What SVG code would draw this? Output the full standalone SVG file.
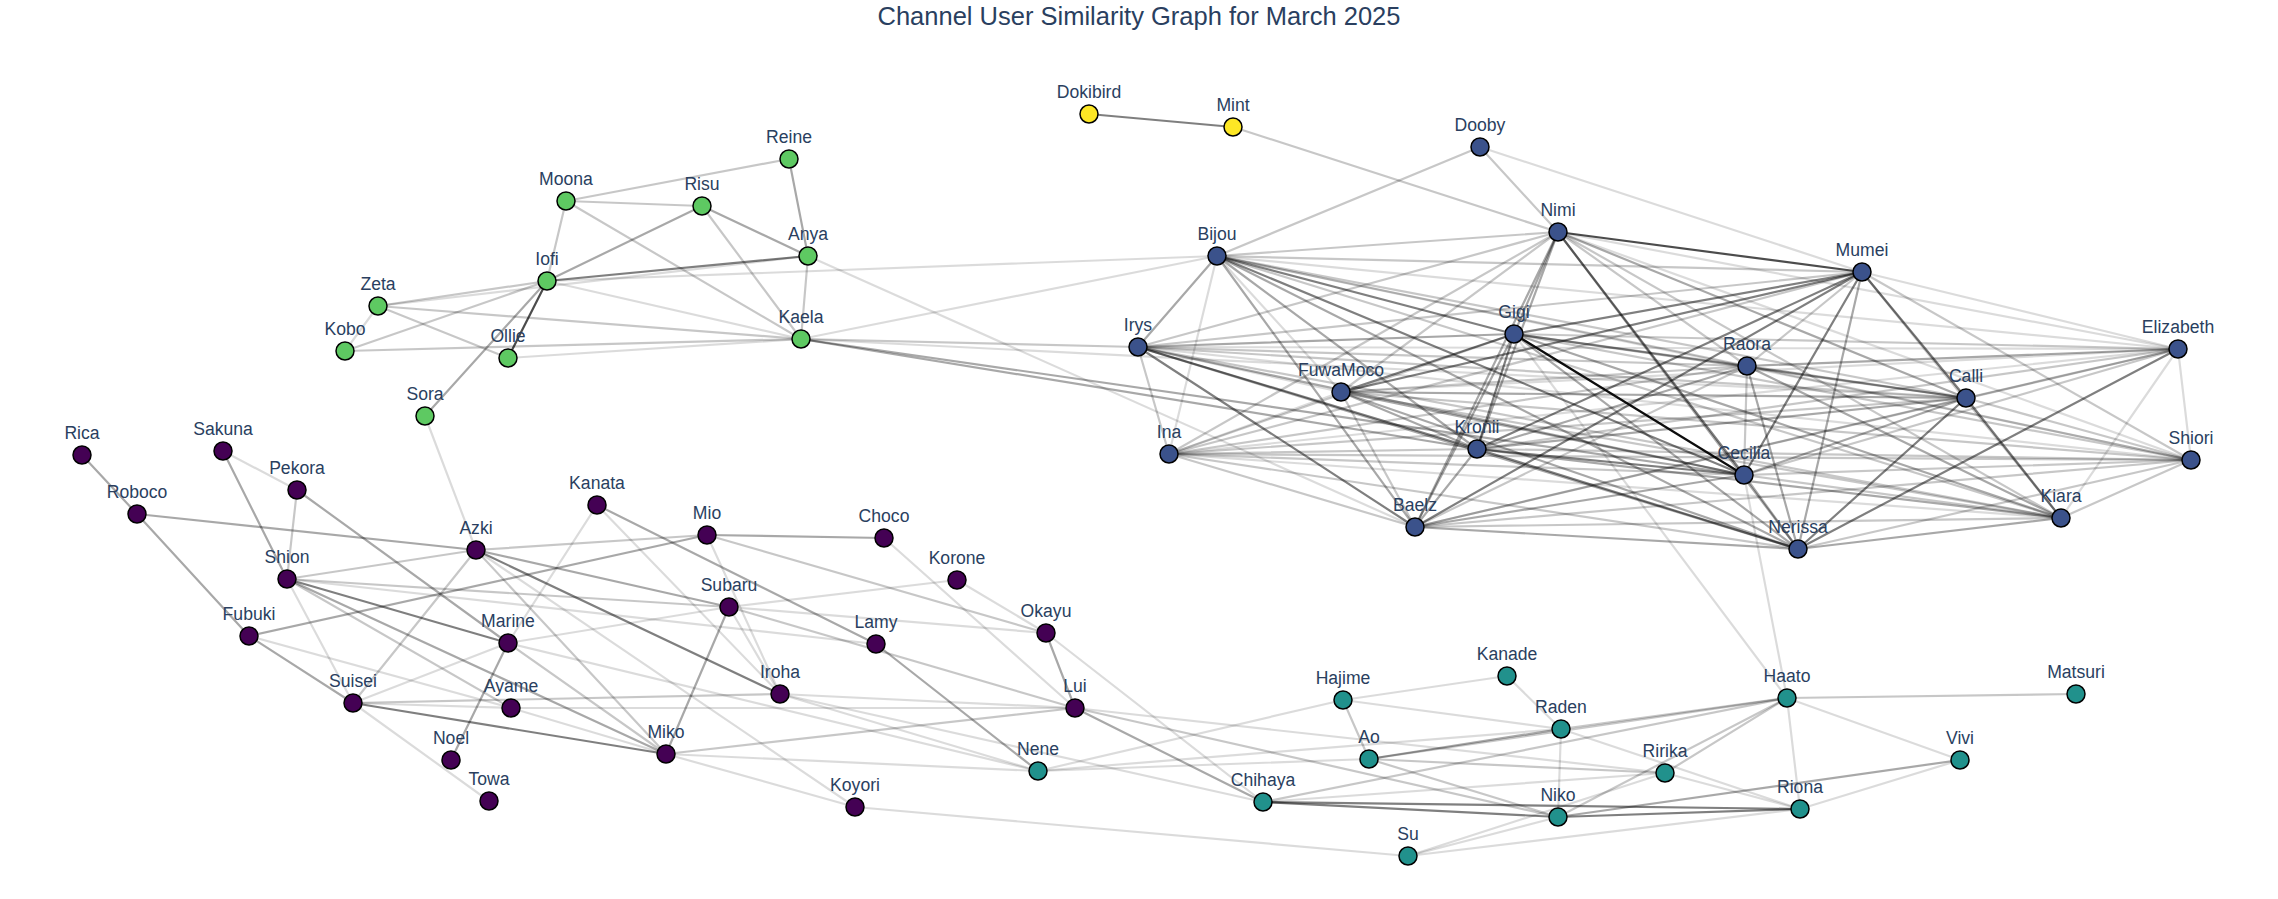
<svg xmlns="http://www.w3.org/2000/svg" width="2278" height="899" viewBox="0 0 2278 899">
<style>
.bg{fill:#ffffff}
.title{font-family:"Liberation Sans",Arial,sans-serif;font-size:25.5px;fill:#2a3f5f;text-anchor:middle}
.lbl{font-family:"Liberation Sans",Arial,sans-serif;font-size:17.6px;fill:#2a3f5f;text-anchor:middle}
circle{stroke:#000;stroke-width:1.5}
.g{fill:#5ec962}.y{fill:#fde725}.b{fill:#3b528b}.p{fill:#440154}.t{fill:#21918c}
#edges line{stroke:#000;stroke-width:2.2;stroke-linecap:round}
.l1 line{stroke-opacity:0.14}.l2 line{stroke-opacity:0.22}.l3 line{stroke-opacity:0.34}
.l4 line{stroke-opacity:0.5}.l5 line{stroke-opacity:0.7}.l6 line{stroke-opacity:0.95}
</style>
<rect class="bg" x="0" y="0" width="2278" height="899"/>
<text class="title" x="1139" y="25">Channel User Similarity Graph for March 2025</text>
<g id="edges">
<g class="l1">
<line x1="1480" y1="147" x2="1862" y2="272"/>
<line x1="547" y1="281" x2="801" y2="339"/>
<line x1="547" y1="281" x2="1217" y2="256"/>
<line x1="378" y1="306" x2="345" y2="351"/>
<line x1="508" y1="358" x2="801" y2="339"/>
<line x1="425" y1="416" x2="476" y2="550"/>
<line x1="808" y1="256" x2="1415" y2="527"/>
<line x1="801" y1="339" x2="1217" y2="256"/>
<line x1="801" y1="339" x2="1966" y2="398"/>
<line x1="378" y1="306" x2="808" y2="256"/>
<line x1="223" y1="451" x2="297" y2="490"/>
<line x1="476" y1="550" x2="855" y2="807"/>
<line x1="597" y1="505" x2="508" y2="643"/>
<line x1="597" y1="505" x2="780" y2="694"/>
<line x1="707" y1="535" x2="780" y2="694"/>
<line x1="729" y1="607" x2="508" y2="643"/>
<line x1="729" y1="607" x2="957" y2="580"/>
<line x1="729" y1="607" x2="1046" y2="633"/>
<line x1="729" y1="607" x2="780" y2="694"/>
<line x1="884" y1="538" x2="1075" y2="708"/>
<line x1="957" y1="580" x2="1046" y2="633"/>
<line x1="1046" y1="633" x2="1263" y2="802"/>
<line x1="1075" y1="708" x2="780" y2="694"/>
<line x1="1075" y1="708" x2="1665" y2="773"/>
<line x1="780" y1="694" x2="1038" y2="771"/>
<line x1="780" y1="694" x2="1263" y2="802"/>
<line x1="287" y1="579" x2="353" y2="703"/>
<line x1="287" y1="579" x2="876" y2="644"/>
<line x1="249" y1="636" x2="511" y2="708"/>
<line x1="508" y1="643" x2="353" y2="703"/>
<line x1="508" y1="643" x2="1038" y2="771"/>
<line x1="353" y1="703" x2="489" y2="801"/>
<line x1="353" y1="703" x2="511" y2="708"/>
<line x1="511" y1="708" x2="1075" y2="708"/>
<line x1="511" y1="708" x2="666" y2="754"/>
<line x1="666" y1="754" x2="1038" y2="771"/>
<line x1="666" y1="754" x2="855" y2="807"/>
<line x1="855" y1="807" x2="1408" y2="856"/>
<line x1="1343" y1="700" x2="1038" y2="771"/>
<line x1="1343" y1="700" x2="1507" y2="676"/>
<line x1="1343" y1="700" x2="1561" y2="729"/>
<line x1="1507" y1="676" x2="1561" y2="729"/>
<line x1="1561" y1="729" x2="1558" y2="817"/>
<line x1="1561" y1="729" x2="1800" y2="809"/>
<line x1="1038" y1="771" x2="1369" y2="759"/>
<line x1="1038" y1="771" x2="1561" y2="729"/>
<line x1="1263" y1="802" x2="1665" y2="773"/>
<line x1="1408" y1="856" x2="1558" y2="817"/>
<line x1="1408" y1="856" x2="1665" y2="773"/>
<line x1="1408" y1="856" x2="1800" y2="809"/>
<line x1="1665" y1="773" x2="1800" y2="809"/>
<line x1="1787" y1="698" x2="1960" y2="760"/>
<line x1="1787" y1="698" x2="1800" y2="809"/>
<line x1="1800" y1="809" x2="1960" y2="760"/>
<line x1="1514" y1="334" x2="1787" y2="698"/>
<line x1="1744" y1="475" x2="1787" y2="698"/>
<line x1="1217" y1="256" x2="1341" y2="392"/>
<line x1="1217" y1="256" x2="1169" y2="454"/>
<line x1="1217" y1="256" x2="2178" y2="349"/>
<line x1="1217" y1="256" x2="2191" y2="460"/>
<line x1="1138" y1="347" x2="1341" y2="392"/>
<line x1="1138" y1="347" x2="2178" y2="349"/>
<line x1="1138" y1="347" x2="2191" y2="460"/>
<line x1="1341" y1="392" x2="1169" y2="454"/>
<line x1="1341" y1="392" x2="2178" y2="349"/>
<line x1="1169" y1="454" x2="2178" y2="349"/>
<line x1="1169" y1="454" x2="2061" y2="518"/>
<line x1="1558" y1="232" x2="2178" y2="349"/>
<line x1="1558" y1="232" x2="2191" y2="460"/>
<line x1="1862" y1="272" x2="2178" y2="349"/>
<line x1="2178" y1="349" x2="2191" y2="460"/>
<line x1="2178" y1="349" x2="2061" y2="518"/>
</g>
<g class="l2">
<line x1="1233" y1="127" x2="1558" y2="232"/>
<line x1="1480" y1="147" x2="1217" y2="256"/>
<line x1="1480" y1="147" x2="1558" y2="232"/>
<line x1="566" y1="201" x2="702" y2="206"/>
<line x1="566" y1="201" x2="789" y2="159"/>
<line x1="566" y1="201" x2="547" y2="281"/>
<line x1="566" y1="201" x2="801" y2="339"/>
<line x1="702" y1="206" x2="801" y2="339"/>
<line x1="808" y1="256" x2="801" y2="339"/>
<line x1="547" y1="281" x2="378" y2="306"/>
<line x1="547" y1="281" x2="345" y2="351"/>
<line x1="378" y1="306" x2="508" y2="358"/>
<line x1="378" y1="306" x2="801" y2="339"/>
<line x1="345" y1="351" x2="801" y2="339"/>
<line x1="801" y1="339" x2="1138" y2="347"/>
<line x1="297" y1="490" x2="287" y2="579"/>
<line x1="476" y1="550" x2="707" y2="535"/>
<line x1="476" y1="550" x2="287" y2="579"/>
<line x1="476" y1="550" x2="353" y2="703"/>
<line x1="476" y1="550" x2="666" y2="754"/>
<line x1="707" y1="535" x2="1046" y2="633"/>
<line x1="729" y1="607" x2="287" y2="579"/>
<line x1="729" y1="607" x2="1075" y2="708"/>
<line x1="1075" y1="708" x2="666" y2="754"/>
<line x1="1075" y1="708" x2="1558" y2="817"/>
<line x1="780" y1="694" x2="353" y2="703"/>
<line x1="287" y1="579" x2="511" y2="708"/>
<line x1="508" y1="643" x2="666" y2="754"/>
<line x1="1343" y1="700" x2="1369" y2="759"/>
<line x1="1561" y1="729" x2="1787" y2="698"/>
<line x1="1369" y1="759" x2="1787" y2="698"/>
<line x1="1369" y1="759" x2="1665" y2="773"/>
<line x1="1369" y1="759" x2="1558" y2="817"/>
<line x1="1263" y1="802" x2="1787" y2="698"/>
<line x1="1558" y1="817" x2="1787" y2="698"/>
<line x1="1665" y1="773" x2="1787" y2="698"/>
<line x1="1787" y1="698" x2="2076" y2="694"/>
<line x1="1217" y1="256" x2="1558" y2="232"/>
<line x1="1217" y1="256" x2="1862" y2="272"/>
<line x1="1217" y1="256" x2="1747" y2="366"/>
<line x1="1217" y1="256" x2="1966" y2="398"/>
<line x1="1217" y1="256" x2="2061" y2="518"/>
<line x1="1138" y1="347" x2="1169" y2="454"/>
<line x1="1138" y1="347" x2="1558" y2="232"/>
<line x1="1138" y1="347" x2="1862" y2="272"/>
<line x1="1138" y1="347" x2="1747" y2="366"/>
<line x1="1138" y1="347" x2="1966" y2="398"/>
<line x1="1138" y1="347" x2="2061" y2="518"/>
<line x1="1341" y1="392" x2="1558" y2="232"/>
<line x1="1341" y1="392" x2="1747" y2="366"/>
<line x1="1341" y1="392" x2="2191" y2="460"/>
<line x1="1341" y1="392" x2="2061" y2="518"/>
<line x1="1341" y1="392" x2="1415" y2="527"/>
<line x1="1169" y1="454" x2="1477" y2="449"/>
<line x1="1169" y1="454" x2="1514" y2="334"/>
<line x1="1169" y1="454" x2="1558" y2="232"/>
<line x1="1169" y1="454" x2="1862" y2="272"/>
<line x1="1169" y1="454" x2="1747" y2="366"/>
<line x1="1169" y1="454" x2="1966" y2="398"/>
<line x1="1169" y1="454" x2="2191" y2="460"/>
<line x1="1169" y1="454" x2="1798" y2="549"/>
<line x1="1169" y1="454" x2="1744" y2="475"/>
<line x1="1169" y1="454" x2="1415" y2="527"/>
<line x1="1477" y1="449" x2="2178" y2="349"/>
<line x1="1477" y1="449" x2="2191" y2="460"/>
<line x1="1514" y1="334" x2="2178" y2="349"/>
<line x1="1514" y1="334" x2="2191" y2="460"/>
<line x1="1558" y1="232" x2="1747" y2="366"/>
<line x1="1558" y1="232" x2="2061" y2="518"/>
<line x1="1862" y1="272" x2="1747" y2="366"/>
<line x1="1862" y1="272" x2="2191" y2="460"/>
<line x1="1862" y1="272" x2="2061" y2="518"/>
<line x1="1747" y1="366" x2="2191" y2="460"/>
<line x1="1747" y1="366" x2="1744" y2="475"/>
<line x1="1747" y1="366" x2="1415" y2="527"/>
<line x1="1966" y1="398" x2="2178" y2="349"/>
<line x1="1966" y1="398" x2="2191" y2="460"/>
<line x1="1966" y1="398" x2="1415" y2="527"/>
<line x1="2178" y1="349" x2="1744" y2="475"/>
<line x1="2178" y1="349" x2="1415" y2="527"/>
<line x1="2191" y1="460" x2="2061" y2="518"/>
<line x1="2191" y1="460" x2="1798" y2="549"/>
<line x1="2191" y1="460" x2="1744" y2="475"/>
<line x1="2191" y1="460" x2="1415" y2="527"/>
<line x1="2061" y1="518" x2="1744" y2="475"/>
<line x1="2061" y1="518" x2="1415" y2="527"/>
</g>
<g class="l3">
<line x1="702" y1="206" x2="547" y2="281"/>
<line x1="702" y1="206" x2="808" y2="256"/>
<line x1="789" y1="159" x2="808" y2="256"/>
<line x1="547" y1="281" x2="425" y2="416"/>
<line x1="801" y1="339" x2="1477" y2="449"/>
<line x1="801" y1="339" x2="1744" y2="475"/>
<line x1="82" y1="455" x2="137" y2="514"/>
<line x1="137" y1="514" x2="476" y2="550"/>
<line x1="137" y1="514" x2="249" y2="636"/>
<line x1="223" y1="451" x2="287" y2="579"/>
<line x1="297" y1="490" x2="508" y2="643"/>
<line x1="476" y1="550" x2="729" y2="607"/>
<line x1="597" y1="505" x2="876" y2="644"/>
<line x1="707" y1="535" x2="884" y2="538"/>
<line x1="707" y1="535" x2="249" y2="636"/>
<line x1="729" y1="607" x2="666" y2="754"/>
<line x1="876" y1="644" x2="1038" y2="771"/>
<line x1="1046" y1="633" x2="1075" y2="708"/>
<line x1="1075" y1="708" x2="1263" y2="802"/>
<line x1="287" y1="579" x2="666" y2="754"/>
<line x1="249" y1="636" x2="353" y2="703"/>
<line x1="508" y1="643" x2="451" y2="760"/>
<line x1="1369" y1="759" x2="1561" y2="729"/>
<line x1="1558" y1="817" x2="1960" y2="760"/>
<line x1="1217" y1="256" x2="1138" y2="347"/>
<line x1="1217" y1="256" x2="1477" y2="449"/>
<line x1="1217" y1="256" x2="1798" y2="549"/>
<line x1="1217" y1="256" x2="1415" y2="527"/>
<line x1="1138" y1="347" x2="1514" y2="334"/>
<line x1="1138" y1="347" x2="1798" y2="549"/>
<line x1="1138" y1="347" x2="1744" y2="475"/>
<line x1="1341" y1="392" x2="1477" y2="449"/>
<line x1="1341" y1="392" x2="1966" y2="398"/>
<line x1="1341" y1="392" x2="1798" y2="549"/>
<line x1="1341" y1="392" x2="1744" y2="475"/>
<line x1="1477" y1="449" x2="1558" y2="232"/>
<line x1="1477" y1="449" x2="1747" y2="366"/>
<line x1="1477" y1="449" x2="1966" y2="398"/>
<line x1="1477" y1="449" x2="2061" y2="518"/>
<line x1="1477" y1="449" x2="1415" y2="527"/>
<line x1="1514" y1="334" x2="1558" y2="232"/>
<line x1="1514" y1="334" x2="1747" y2="366"/>
<line x1="1514" y1="334" x2="1966" y2="398"/>
<line x1="1514" y1="334" x2="2061" y2="518"/>
<line x1="1514" y1="334" x2="1798" y2="549"/>
<line x1="1514" y1="334" x2="1415" y2="527"/>
<line x1="1558" y1="232" x2="1966" y2="398"/>
<line x1="1558" y1="232" x2="1798" y2="549"/>
<line x1="1558" y1="232" x2="1415" y2="527"/>
<line x1="1862" y1="272" x2="1798" y2="549"/>
<line x1="1747" y1="366" x2="1966" y2="398"/>
<line x1="1747" y1="366" x2="2178" y2="349"/>
<line x1="1747" y1="366" x2="2061" y2="518"/>
<line x1="1747" y1="366" x2="1798" y2="549"/>
<line x1="1966" y1="398" x2="1744" y2="475"/>
<line x1="2061" y1="518" x2="1798" y2="549"/>
<line x1="1798" y1="549" x2="1744" y2="475"/>
<line x1="1798" y1="549" x2="1415" y2="527"/>
<line x1="1744" y1="475" x2="1415" y2="527"/>
</g>
<g class="l4">
<line x1="1089" y1="114" x2="1233" y2="127"/>
<line x1="808" y1="256" x2="547" y2="281"/>
<line x1="476" y1="550" x2="780" y2="694"/>
<line x1="287" y1="579" x2="508" y2="643"/>
<line x1="353" y1="703" x2="666" y2="754"/>
<line x1="1263" y1="802" x2="1558" y2="817"/>
<line x1="1263" y1="802" x2="1800" y2="809"/>
<line x1="1558" y1="817" x2="1800" y2="809"/>
<line x1="1217" y1="256" x2="1514" y2="334"/>
<line x1="1217" y1="256" x2="1744" y2="475"/>
<line x1="1138" y1="347" x2="1477" y2="449"/>
<line x1="1138" y1="347" x2="1415" y2="527"/>
<line x1="1341" y1="392" x2="1514" y2="334"/>
<line x1="1341" y1="392" x2="1862" y2="272"/>
<line x1="1477" y1="449" x2="1514" y2="334"/>
<line x1="1477" y1="449" x2="1862" y2="272"/>
<line x1="1477" y1="449" x2="1798" y2="549"/>
<line x1="1477" y1="449" x2="1744" y2="475"/>
<line x1="1514" y1="334" x2="1862" y2="272"/>
<line x1="1558" y1="232" x2="1744" y2="475"/>
<line x1="1862" y1="272" x2="1966" y2="398"/>
<line x1="1862" y1="272" x2="1744" y2="475"/>
<line x1="1862" y1="272" x2="1415" y2="527"/>
<line x1="1966" y1="398" x2="2061" y2="518"/>
<line x1="1966" y1="398" x2="1798" y2="549"/>
<line x1="2178" y1="349" x2="1798" y2="549"/>
</g>
<g class="l5">
<line x1="547" y1="281" x2="508" y2="358"/>
<line x1="1558" y1="232" x2="1862" y2="272"/>
</g>
<g class="l6">
<line x1="1514" y1="334" x2="1744" y2="475"/>
</g>
</g>
<g id="nodes">
<g id="node-Reine"><circle class="g" cx="789" cy="159" r="9"/><text class="lbl" x="789" y="143">Reine</text></g>
<g id="node-Moona"><circle class="g" cx="566" cy="201" r="9"/><text class="lbl" x="566" y="185">Moona</text></g>
<g id="node-Risu"><circle class="g" cx="702" cy="206" r="9"/><text class="lbl" x="702" y="190">Risu</text></g>
<g id="node-Anya"><circle class="g" cx="808" cy="256" r="9"/><text class="lbl" x="808" y="240">Anya</text></g>
<g id="node-Iofi"><circle class="g" cx="547" cy="281" r="9"/><text class="lbl" x="547" y="265">Iofi</text></g>
<g id="node-Zeta"><circle class="g" cx="378" cy="306" r="9"/><text class="lbl" x="378" y="290">Zeta</text></g>
<g id="node-Kaela"><circle class="g" cx="801" cy="339" r="9"/><text class="lbl" x="801" y="323">Kaela</text></g>
<g id="node-Kobo"><circle class="g" cx="345" cy="351" r="9"/><text class="lbl" x="345" y="335">Kobo</text></g>
<g id="node-Ollie"><circle class="g" cx="508" cy="358" r="9"/><text class="lbl" x="508" y="342">Ollie</text></g>
<g id="node-Sora"><circle class="g" cx="425" cy="416" r="9"/><text class="lbl" x="425" y="400">Sora</text></g>
<g id="node-Dokibird"><circle class="y" cx="1089" cy="114" r="9"/><text class="lbl" x="1089" y="98">Dokibird</text></g>
<g id="node-Mint"><circle class="y" cx="1233" cy="127" r="9"/><text class="lbl" x="1233" y="111">Mint</text></g>
<g id="node-Dooby"><circle class="b" cx="1480" cy="147" r="9"/><text class="lbl" x="1480" y="131">Dooby</text></g>
<g id="node-Nimi"><circle class="b" cx="1558" cy="232" r="9"/><text class="lbl" x="1558" y="216">Nimi</text></g>
<g id="node-Bijou"><circle class="b" cx="1217" cy="256" r="9"/><text class="lbl" x="1217" y="240">Bijou</text></g>
<g id="node-Mumei"><circle class="b" cx="1862" cy="272" r="9"/><text class="lbl" x="1862" y="256">Mumei</text></g>
<g id="node-Gigi"><circle class="b" cx="1514" cy="334" r="9"/><text class="lbl" x="1514" y="318">Gigi</text></g>
<g id="node-Irys"><circle class="b" cx="1138" cy="347" r="9"/><text class="lbl" x="1138" y="331">Irys</text></g>
<g id="node-Elizabeth"><circle class="b" cx="2178" cy="349" r="9"/><text class="lbl" x="2178" y="333">Elizabeth</text></g>
<g id="node-Raora"><circle class="b" cx="1747" cy="366" r="9"/><text class="lbl" x="1747" y="350">Raora</text></g>
<g id="node-FuwaMoco"><circle class="b" cx="1341" cy="392" r="9"/><text class="lbl" x="1341" y="376">FuwaMoco</text></g>
<g id="node-Calli"><circle class="b" cx="1966" cy="398" r="9"/><text class="lbl" x="1966" y="382">Calli</text></g>
<g id="node-Kronii"><circle class="b" cx="1477" cy="449" r="9"/><text class="lbl" x="1477" y="433">Kronii</text></g>
<g id="node-Ina"><circle class="b" cx="1169" cy="454" r="9"/><text class="lbl" x="1169" y="438">Ina</text></g>
<g id="node-Shiori"><circle class="b" cx="2191" cy="460" r="9"/><text class="lbl" x="2191" y="444">Shiori</text></g>
<g id="node-Cecilia"><circle class="b" cx="1744" cy="475" r="9"/><text class="lbl" x="1744" y="459">Cecilia</text></g>
<g id="node-Kiara"><circle class="b" cx="2061" cy="518" r="9"/><text class="lbl" x="2061" y="502">Kiara</text></g>
<g id="node-Baelz"><circle class="b" cx="1415" cy="527" r="9"/><text class="lbl" x="1415" y="511">Baelz</text></g>
<g id="node-Nerissa"><circle class="b" cx="1798" cy="549" r="9"/><text class="lbl" x="1798" y="533">Nerissa</text></g>
<g id="node-Rica"><circle class="p" cx="82" cy="455" r="9"/><text class="lbl" x="82" y="439">Rica</text></g>
<g id="node-Sakuna"><circle class="p" cx="223" cy="451" r="9"/><text class="lbl" x="223" y="435">Sakuna</text></g>
<g id="node-Pekora"><circle class="p" cx="297" cy="490" r="9"/><text class="lbl" x="297" y="474">Pekora</text></g>
<g id="node-Kanata"><circle class="p" cx="597" cy="505" r="9"/><text class="lbl" x="597" y="489">Kanata</text></g>
<g id="node-Roboco"><circle class="p" cx="137" cy="514" r="9"/><text class="lbl" x="137" y="498">Roboco</text></g>
<g id="node-Mio"><circle class="p" cx="707" cy="535" r="9"/><text class="lbl" x="707" y="519">Mio</text></g>
<g id="node-Choco"><circle class="p" cx="884" cy="538" r="9"/><text class="lbl" x="884" y="522">Choco</text></g>
<g id="node-Azki"><circle class="p" cx="476" cy="550" r="9"/><text class="lbl" x="476" y="534">Azki</text></g>
<g id="node-Shion"><circle class="p" cx="287" cy="579" r="9"/><text class="lbl" x="287" y="563">Shion</text></g>
<g id="node-Korone"><circle class="p" cx="957" cy="580" r="9"/><text class="lbl" x="957" y="564">Korone</text></g>
<g id="node-Subaru"><circle class="p" cx="729" cy="607" r="9"/><text class="lbl" x="729" y="591">Subaru</text></g>
<g id="node-Okayu"><circle class="p" cx="1046" cy="633" r="9"/><text class="lbl" x="1046" y="617">Okayu</text></g>
<g id="node-Fubuki"><circle class="p" cx="249" cy="636" r="9"/><text class="lbl" x="249" y="620">Fubuki</text></g>
<g id="node-Marine"><circle class="p" cx="508" cy="643" r="9"/><text class="lbl" x="508" y="627">Marine</text></g>
<g id="node-Lamy"><circle class="p" cx="876" cy="644" r="9"/><text class="lbl" x="876" y="628">Lamy</text></g>
<g id="node-Iroha"><circle class="p" cx="780" cy="694" r="9"/><text class="lbl" x="780" y="678">Iroha</text></g>
<g id="node-Suisei"><circle class="p" cx="353" cy="703" r="9"/><text class="lbl" x="353" y="687">Suisei</text></g>
<g id="node-Ayame"><circle class="p" cx="511" cy="708" r="9"/><text class="lbl" x="511" y="692">Ayame</text></g>
<g id="node-Lui"><circle class="p" cx="1075" cy="708" r="9"/><text class="lbl" x="1075" y="692">Lui</text></g>
<g id="node-Miko"><circle class="p" cx="666" cy="754" r="9"/><text class="lbl" x="666" y="738">Miko</text></g>
<g id="node-Noel"><circle class="p" cx="451" cy="760" r="9"/><text class="lbl" x="451" y="744">Noel</text></g>
<g id="node-Towa"><circle class="p" cx="489" cy="801" r="9"/><text class="lbl" x="489" y="785">Towa</text></g>
<g id="node-Koyori"><circle class="p" cx="855" cy="807" r="9"/><text class="lbl" x="855" y="791">Koyori</text></g>
<g id="node-Kanade"><circle class="t" cx="1507" cy="676" r="9"/><text class="lbl" x="1507" y="660">Kanade</text></g>
<g id="node-Hajime"><circle class="t" cx="1343" cy="700" r="9"/><text class="lbl" x="1343" y="684">Hajime</text></g>
<g id="node-Matsuri"><circle class="t" cx="2076" cy="694" r="9"/><text class="lbl" x="2076" y="678">Matsuri</text></g>
<g id="node-Haato"><circle class="t" cx="1787" cy="698" r="9"/><text class="lbl" x="1787" y="682">Haato</text></g>
<g id="node-Raden"><circle class="t" cx="1561" cy="729" r="9"/><text class="lbl" x="1561" y="713">Raden</text></g>
<g id="node-Ao"><circle class="t" cx="1369" cy="759" r="9"/><text class="lbl" x="1369" y="743">Ao</text></g>
<g id="node-Vivi"><circle class="t" cx="1960" cy="760" r="9"/><text class="lbl" x="1960" y="744">Vivi</text></g>
<g id="node-Nene"><circle class="t" cx="1038" cy="771" r="9"/><text class="lbl" x="1038" y="755">Nene</text></g>
<g id="node-Ririka"><circle class="t" cx="1665" cy="773" r="9"/><text class="lbl" x="1665" y="757">Ririka</text></g>
<g id="node-Chihaya"><circle class="t" cx="1263" cy="802" r="9"/><text class="lbl" x="1263" y="786">Chihaya</text></g>
<g id="node-Riona"><circle class="t" cx="1800" cy="809" r="9"/><text class="lbl" x="1800" y="793">Riona</text></g>
<g id="node-Niko"><circle class="t" cx="1558" cy="817" r="9"/><text class="lbl" x="1558" y="801">Niko</text></g>
<g id="node-Su"><circle class="t" cx="1408" cy="856" r="9"/><text class="lbl" x="1408" y="840">Su</text></g>
</g>
</svg>
